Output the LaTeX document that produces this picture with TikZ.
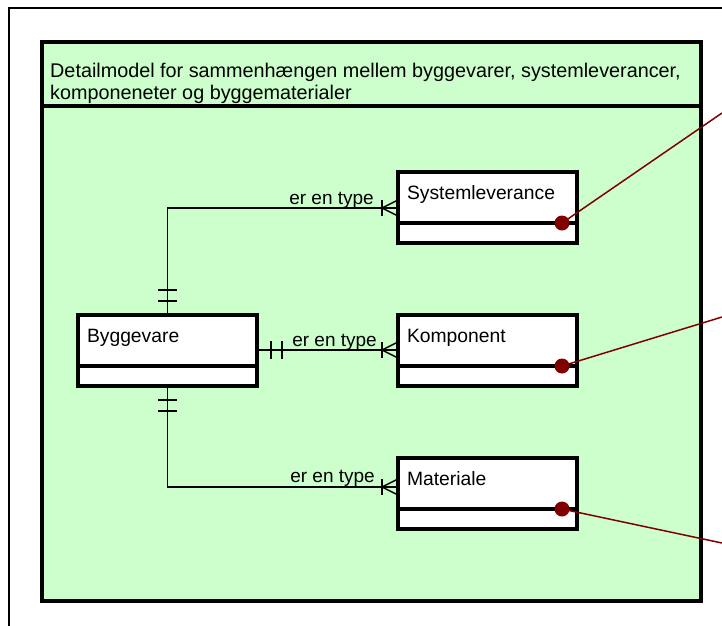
\documentclass[tikz,border=0pt]{standalone}
\usepackage{fontspec}
\setmainfont{Liberation Sans}
\usetikzlibrary{positioning}
\usetikzlibrary{math}
\definecolor{panelgreen}{RGB}{204,255,204}
\definecolor{linkred}{RGB}{128,0,0}

\begin{document}
\begin{tikzpicture}[x=1pt,y=-1pt,
	entity/.style={draw, line width=3.2pt, fill=white, anchor=north west, outer sep=0pt,
		inner xsep=9pt, inner ysep=0pt, text width=161pt, text height=27pt, text depth=24pt,
		align=left, font=\fontsize{19.3}{21}\selectfont},
	entitybot/.style={draw, line width=3.2pt, fill=white, anchor=north west, outer sep=0pt,
		inner sep=0pt, minimum width=179pt, minimum height=20pt},
	panel/.style={draw, line width=3.2pt, fill=panelgreen, anchor=north west, outer sep=0pt,
		inner sep=0pt, minimum width=659pt},
	link/.style={line width=1.4pt},
	lbl/.style={inner sep=0pt, font=\fontsize{19}{21}\selectfont},
	redlink/.style={linkred, line width=1.5pt}]
	\tikzmath{\ex=398; \bx=78; \sy=172; \ky=315; \my=458;}
	\useasboundingbox (0,0) rectangle (722,625);
	\path[clip] (0,0) rectangle (722,625);

	% frame and panel
	\draw[line width=1.4pt] (9,640) |- (740,8);
	\node[panel, minimum height=64pt] (hdr) at (42,42) {};
	\node[panel, minimum height=495pt] (body) at (hdr.south west) {};
	\node[anchor=north west, inner sep=0pt, align=left, font=\fontsize{19.8}{21.5}\selectfont]
		(title) at (50,63) {Detailmodel for sammenhængen mellem byggevarer, systemleverancer,\\komponeneter og byggematerialer};

	% entities
	\node[entity] (byg) at (\bx,\ky) {Byggevare};
	\node[entitybot] (bygb) at (byg.south west) {};
	\node[entity] (sys) at (\ex,\sy) {Systemleverance};
	\node[entitybot] (sysb) at (sys.south west) {};
	\node[entity] (kom) at (\ex,\ky) {Komponent};
	\node[entitybot] (komb) at (kom.south west) {};
	\node[entity] (mat) at (\ex,\my) {Materiale};
	\node[entitybot] (matb) at (mat.south west) {};

	% relations
	\coordinate (sysin) at ([yshift=15pt]sys.south west);
	\coordinate (komin) at ([yshift=16pt]kom.south west);
	\coordinate (bygout) at ([yshift=16pt]byg.south east);
	\coordinate (matin) at ([yshift=22pt]mat.south west);
	\draw[link] (byg.north) |- (sysin);
	\draw[link] (bygout) -- (komin);
	\draw[link] (bygb.south) |- (matin);
	\node[lbl, anchor=base east] (lsys) at ([xshift=-24pt, yshift=4pt]sysin) {er en type};
	\node[lbl, anchor=base east] (lkom) at ([xshift=-21pt, yshift=4pt]komin) {er en type};
	\node[lbl, anchor=base east] (lmat) at ([xshift=-23pt, yshift=5pt]matin) {er en type};

	% one side
	\foreach \d in {14,25} {
		\draw[link] ([xshift=-9.5pt, yshift=\d pt]byg.north) -- ([xshift=9.5pt, yshift=\d pt]byg.north);
		\draw[link] ([xshift=-9.5pt, yshift=-\d pt]bygb.south) -- ([xshift=9.5pt, yshift=-\d pt]bygb.south);
		\draw[link] ([xshift=\d pt, yshift=-9pt]bygout) -- ([xshift=\d pt, yshift=9pt]bygout);
	}
	% many side
	\foreach \c in {sysin,komin,matin} {
		\draw[link] ([xshift=-16pt, yshift=-8pt]\c) -- ([xshift=-16pt, yshift=8pt]\c);
		\draw[link] ([yshift=8pt]\c) -- ([xshift=-16pt]\c) -- ([yshift=-8pt]\c);
	}

	% links out of the panel
	\coordinate (sysend) at (722,113);
	\coordinate (komend) at (722,317);
	\coordinate (matend) at (722,543);
	\foreach \e in {sys,kom,mat} {
		\draw[redlink] ([xshift=-15pt]\e.south east) -- (\e end);
		\fill[linkred] ([xshift=-15pt]\e.south east) circle (7.5pt);
	}
\end{tikzpicture}
\end{document}
